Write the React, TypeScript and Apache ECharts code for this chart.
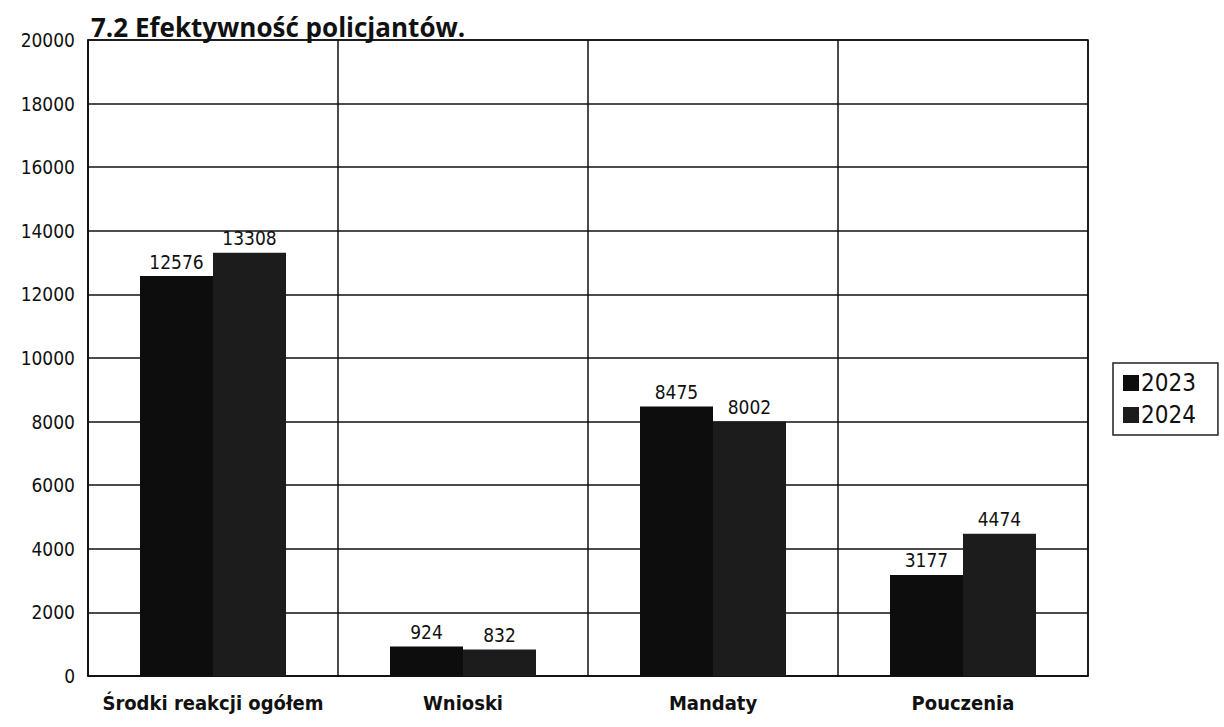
import React, { useEffect, useRef } from "react";
import * as echarts from "echarts";

const categories = ["Środki reakcji ogółem", "Wnioski", "Mandaty", "Pouczenia"];
const values2023 = [12576, 924, 8475, 3177];
const values2024 = [13308, 832, 8002, 4474];
const seriesNames = ["2023", "2024"];
const titleText = "7.2 Efektywność policjantów.";

const FONT = "DejaVu Sans Condensed, DejaVu Sans, sans-serif";

export default function App() {
  const ref = useRef<HTMLDivElement>(null);
  useEffect(() => {
    if (!ref.current) return;
    const chart = echarts.init(ref.current, null, { renderer: "svg" });
    const labelStyle = {
      show: true,
      position: "top" as const,
      color: "#111",
      fontSize: 19,
      fontFamily: FONT,
      distance: 5,
    };
    chart.setOption({
      animation: false,
      backgroundColor: "#ffffff",
      title: {
        text: titleText,
        left: 86,
        top: 9,
        textStyle: {
          fontSize: 26,
          fontWeight: "bold",
          color: "#111",
          fontFamily: "Open Sans, Liberation Sans, sans-serif",
        },
      },
      legend: {
        orient: "vertical",
        left: 1113,
        top: 363,
        data: seriesNames,
        icon: "rect",
        itemWidth: 16,
        itemHeight: 16,
        itemGap: 8,
        borderColor: "#222",
        borderWidth: 1.5,
        padding: [8, 22, 8, 10],
        textStyle: {
          fontSize: 24,
          color: "#111",
          fontFamily: FONT,
          padding: [0, 0, 0, -3],
        },
      },
      grid: {
        left: 88,
        top: 40,
        width: 1000,
        height: 636,
        show: true,
        borderColor: "#111",
        borderWidth: 1.5,
        backgroundColor: "transparent",
      },
      xAxis: {
        type: "category",
        data: categories,
        axisLine: { show: true, lineStyle: { color: "#111", width: 1.5 } },
        axisTick: { show: false },
        splitLine: { show: true, interval: 0, lineStyle: { color: "#111", width: 1.5 } },
        axisLabel: {
          interval: 0,
          hideOverlap: false,
          margin: 17,
          fontSize: 20,
          fontWeight: "bold",
          color: "#111",
          fontFamily: FONT,
        },
      },
      yAxis: {
        type: "value",
        min: 0,
        max: 20000,
        interval: 2000,
        axisLine: { show: true, lineStyle: { color: "#111", width: 1.5 } },
        axisTick: { show: false },
        splitLine: { show: true, lineStyle: { color: "#111", width: 1.5 } },
        axisLabel: {
          margin: 13,
          fontSize: 19,
          color: "#111",
          fontFamily: FONT,
          formatter: (v: number) => String(v),
        },
      },
      series: [
        {
          name: seriesNames[0],
          type: "bar",
          data: values2023,
          barWidth: 73,
          barGap: "0%",
          itemStyle: { color: "#0d0d0d" },
          label: labelStyle,
        },
        {
          name: seriesNames[1],
          type: "bar",
          data: values2024,
          barWidth: 73,
          barGap: "0%",
          itemStyle: { color: "#1c1c1c" },
          label: labelStyle,
        },
      ],
    });
    return () => chart.dispose();
  }, []);
  return (
    <div
      ref={ref}
      style={{ position: "absolute", left: 0, top: 0, width: 1224, height: 727 }}
    />
  );
}
